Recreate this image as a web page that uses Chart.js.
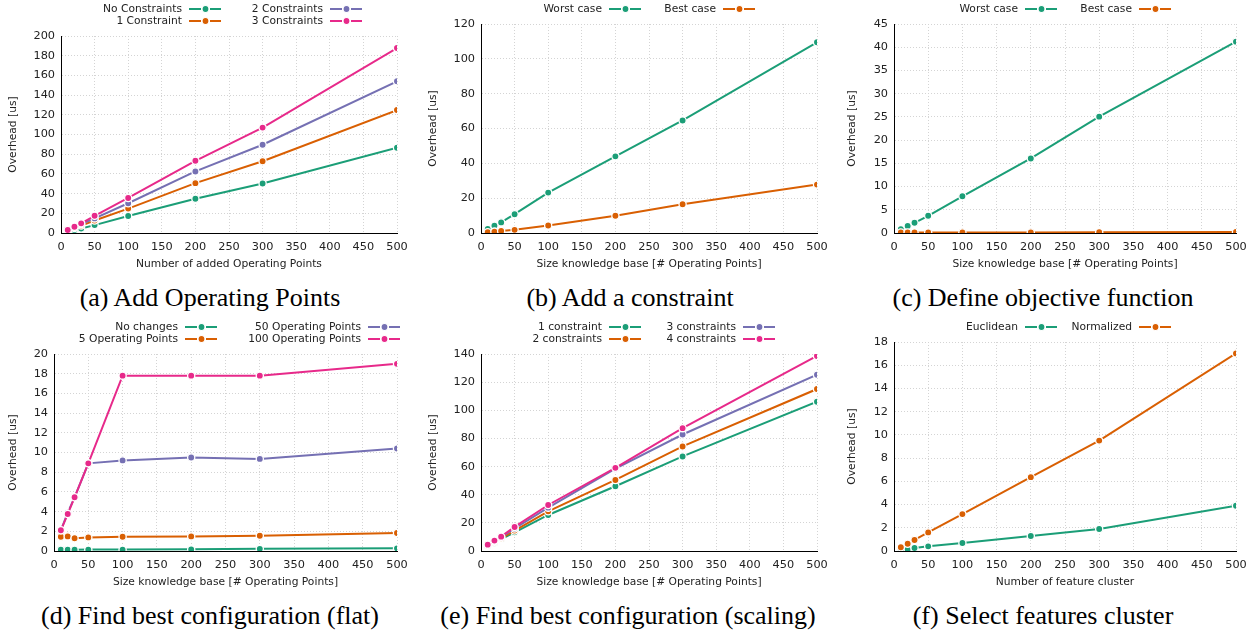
<!DOCTYPE html>
<html>
<head>
<meta charset="utf-8">
<script src="https://cdn.jsdelivr.net/npm/chart.js@4.4.0/dist/chart.umd.min.js"></script>
<style>
  body { margin: 0; background: #fff; width: 1255px; height: 635px; position: relative; overflow: hidden; }
  canvas { position: absolute; }
  .cap { position: absolute; font-family: "Liberation Serif", serif; font-size: 26px; line-height: 26px;
         transform: translateX(-50%); white-space: nowrap; color: #000; }
</style>
</head>
<body>
<canvas id="chartA"></canvas>
<canvas id="chartB"></canvas>
<canvas id="chartC"></canvas>
<canvas id="chartD"></canvas>
<canvas id="chartE"></canvas>
<canvas id="chartF"></canvas>
<div class="cap" style="left:210px;top:285px">(a) Add Operating Points</div>
<div class="cap" style="left:630px;top:285px">(b) Add a constraint</div>
<div class="cap" style="left:1043px;top:285px">(c) Define objective function</div>
<div class="cap" style="left:210px;top:603px">(d) Find best configuration (flat)</div>
<div class="cap" style="left:628px;top:603px">(e) Find best configuration (scaling)</div>
<div class="cap" style="left:1043px;top:603px">(f) Select features cluster</div>
<script>
// x values shared by every panel
const xPoints = [10, 20, 30, 50, 100, 200, 300, 500];

// (a) Add Operating Points
const aNoConstraints = [1.5, 3, 4.5, 8, 17.2, 34.8, 50.3, 86.5];
const aOneConstraint = [2.5, 5, 7.5, 12.7, 24.8, 50.6, 72.9, 124.8];
const aTwoConstraints = [2.9, 5.8, 9, 14.8, 30.2, 62.5, 89.6, 154];
const aThreeConstraints = [3.1, 6.3, 9.8, 17.5, 35.6, 73.3, 107, 187.8];

// (b) Add a constraint
const bWorst = [2.3, 4.2, 6.1, 10.8, 23.2, 44, 64.6, 109.5];
const bBest = [0.4, 0.8, 1.2, 1.8, 4.3, 9.9, 16.5, 27.8];

// (c) Define objective function
const cWorst = [0.8, 1.5, 2.2, 3.7, 7.9, 16.05, 25.05, 41.2];
const cBest = [0.1, 0.1, 0.1, 0.1, 0.12, 0.13, 0.15, 0.2];

// (d) Find best configuration (flat)
const dNoChanges = [0.13, 0.13, 0.13, 0.14, 0.14, 0.17, 0.22, 0.27];
const dFiveOps = [1.45, 1.48, 1.29, 1.38, 1.45, 1.48, 1.55, 1.83];
const dFiftyOps = [2.1, 3.9, 5.45, 8.9, 9.2, 9.5, 9.35, 10.4];
const dHundredOps = [2.1, 3.75, 5.45, 8.9, 17.8, 17.8, 17.8, 19.0];

// (e) Find best configuration (scaling)
const eOne = [3.8, 6, 8.5, 13.3, 25.6, 46, 67.2, 106.1];
const eTwo = [4, 6.5, 9, 14.5, 28.2, 50.5, 74.3, 115.1];
const eThree = [4.3, 7, 9.8, 16, 30.8, 58.6, 82.8, 125.3];
const eFour = [4.5, 7.4, 10.2, 17.1, 32.7, 59.1, 87.3, 138.6];

// (f) Select features cluster
const fEuclidean = [0.09, 0.14, 0.26, 0.4, 0.69, 1.29, 1.89, 3.9];
const fNormalized = [0.32, 0.63, 0.95, 1.6, 3.18, 6.36, 9.51, 17.02];

const GREEN = "#1b9e77", ORANGE = "#d95f02", PURPLE = "#7570b3", PINK = "#e7298a";
const FONT = "DejaVu Sans";
const FSIZE = 10.7;
const TSIZE = 11.3;

// gnuplot-like key: label right aligned, then a short line with a dot
const gnuKey = {
    id: "gnuKey",
    afterDraw(chart, args, opts) {
        const ctx = chart.ctx;
        ctx.save();
        ctx.font = FSIZE + "px '" + FONT + "'";
        ctx.textAlign = "right";
        ctx.textBaseline = "middle";
        chart.data.datasets.forEach((ds, i) => {
            const spot = opts.spots[i];
            const x = spot[0] - opts.left, y = spot[1] - opts.top;
            ctx.fillStyle = "#222";
            ctx.fillText(ds.label, x, y);
            ctx.strokeStyle = ds.borderColor;
            ctx.lineWidth = 2;
            ctx.beginPath();
            ctx.moveTo(x + 7, y); ctx.lineTo(x + 19, y);
            ctx.moveTo(x + 28, y); ctx.lineTo(x + 39, y);
            ctx.stroke();
            ctx.beginPath();
            ctx.arc(x + 23.5, y, 3.5, 0, Math.PI * 2);
            ctx.fillStyle = ds.borderColor;
            ctx.fill();
            ctx.lineWidth = 1.2;
            ctx.strokeStyle = "#fff";
            ctx.stroke();
        });
        ctx.restore();
    }
};

function series(label, values, color) {
    return {
        label: label,
        data: xPoints.map((x, i) => ({ x: x, y: values[i] })),
        borderColor: color,
        backgroundColor: color,
        borderWidth: 2,
        pointRadius: 3.6,
        pointBorderWidth: 1.3,
        pointBorderColor: "#fff",
        pointBackgroundColor: color,
        tension: 0
    };
}

// plot rect (L,T,R,B) and canvas origin (cl,ct) in page pixels
function makePanel(id, p, yMax, yStep, xTitle, datasets, spots) {
    const padRight = 20, xH = 38;
    const el = document.getElementById(id);
    const w = p.R + padRight - p.cl;
    const h = p.B + xH - p.ct;
    el.width = w; el.height = h;
    el.style.left = p.cl + "px";
    el.style.top = p.ct + "px";
    const n = datasets.length;
    // later series are drawn on top, like gnuplot
    datasets.forEach((d, i) => { d.order = n - i; });
    return new Chart(el, {
        type: "line",
        data: { datasets: datasets },
        plugins: [gnuKey],
        options: {
            responsive: false,
            animation: false,
            devicePixelRatio: 1,
            layout: { padding: { left: 0, top: p.T - p.ct, right: padRight, bottom: 0 } },
            plugins: {
                legend: { display: false },
                tooltip: { enabled: false },
                gnuKey: { spots: spots, left: p.cl, top: p.ct }
            },
            scales: {
                x: {
                    type: "linear", min: 0, max: 500,
                    afterFit: (s) => { s.height = xH; },
                    ticks: { stepSize: 50, padding: 7, color: "#222", font: { family: FONT, size: TSIZE } },
                    grid: { color: "#d4d4d4", drawTicks: false },
                    border: { color: "#000", width: 1, dash: [1, 2] },
                    title: { display: true, text: xTitle, color: "#222", padding: { top: 0, bottom: 0 },
                             font: { family: FONT, size: FSIZE } }
                },
                y: {
                    type: "linear", min: 0, max: yMax,
                    afterFit: (s) => { s.width = p.L - p.cl; },
                    ticks: { stepSize: yStep, padding: 6, color: "#222", font: { family: FONT, size: TSIZE } },
                    grid: { color: "#d4d4d4", drawTicks: false },
                    border: { color: "#000", width: 1, dash: [1, 2] },
                    title: { display: true, text: "Overhead [us]", color: "#222", padding: { top: 0, bottom: 0 },
                             font: { family: FONT, size: FSIZE } }
                }
            }
        }
    });
}

const kbTitle = "Size knowledge base [# Operating Points]";

makePanel("chartA", { L: 61, T: 36, R: 397, B: 233, cl: 7, ct: 0 }, 200, 20,
    "Number of added Operating Points",
    [series("No Constraints", aNoConstraints, GREEN),
     series("1 Constraint", aOneConstraint, ORANGE),
     series("2 Constraints", aTwoConstraints, PURPLE),
     series("3 Constraints", aThreeConstraints, PINK)],
    [[182, 9], [182, 21], [323, 9], [323, 21]]);

makePanel("chartB", { L: 481, T: 24, R: 817, B: 233, cl: 427, ct: 0 }, 120, 20, kbTitle,
    [series("Worst case", bWorst, GREEN),
     series("Best case", bBest, ORANGE)],
    [[602, 9], [716, 9]]);

makePanel("chartC", { L: 894, T: 24, R: 1236, B: 233, cl: 846, ct: 0 }, 45, 5, kbTitle,
    [series("Worst case", cWorst, GREEN),
     series("Best case", cBest, ORANGE)],
    [[1018, 9], [1132, 9]]);

makePanel("chartD", { L: 54, T: 354, R: 397, B: 551, cl: 7, ct: 315 }, 20, 2, kbTitle,
    [series("No changes", dNoChanges, GREEN),
     series("5 Operating Points", dFiveOps, ORANGE),
     series("50 Operating Points", dFiftyOps, PURPLE),
     series("100 Operating Points", dHundredOps, PINK)],
    [[178, 327], [178, 339], [361, 327], [361, 339]]);

makePanel("chartE", { L: 481, T: 354, R: 817, B: 551, cl: 427, ct: 315 }, 140, 20, kbTitle,
    [series("1 constraint", eOne, GREEN),
     series("2 constraints", eTwo, ORANGE),
     series("3 constraints", eThree, PURPLE),
     series("4 constraints", eFour, PINK)],
    [[602, 327], [602, 339], [736, 327], [736, 339]]);

makePanel("chartF", { L: 894, T: 342, R: 1236, B: 551, cl: 846, ct: 315 }, 18, 2,
    "Number of feature cluster",
    [series("Euclidean", fEuclidean, GREEN),
     series("Normalized", fNormalized, ORANGE)],
    [[1018, 327], [1132, 327]]);
</script>
</body>
</html>
